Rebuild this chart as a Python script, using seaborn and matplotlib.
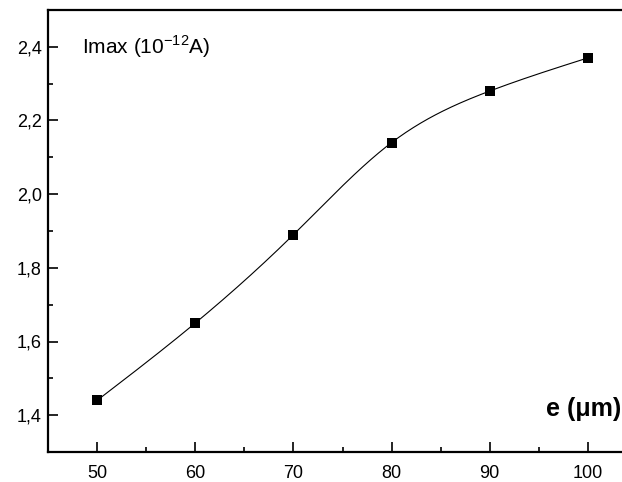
import numpy as np
import pandas as pd
import matplotlib
matplotlib.use("Agg")
import matplotlib.pyplot as plt
from matplotlib.ticker import FixedLocator, MultipleLocator, FixedFormatter
import seaborn as sns

# Measured peak current versus thickness
thickness_um = [50, 60, 70, 80, 90, 100]
imax = [1.44, 1.65, 1.89, 2.14, 2.28, 2.37]

x_ticks = [50, 60, 70, 80, 90, 100]
x_tick_labels = ["50", "60", "70", "80", "90", "100"]
y_ticks = [1.4, 1.6, 1.8, 2.0, 2.2, 2.4]
y_tick_labels = ["1,4", "1,6", "1,8", "2,0", "2,2", "2,4"]


def natural_cubic_spline(x, y, n=400):
    """Natural cubic spline through (x, y), evaluated on a dense grid."""
    x = np.asarray(x, float)
    y = np.asarray(y, float)
    k = len(x)
    h = np.diff(x)
    A = np.zeros((k, k))
    b = np.zeros(k)
    A[0, 0] = A[-1, -1] = 1.0
    for i in range(1, k - 1):
        A[i, i - 1] = h[i - 1]
        A[i, i] = 2 * (h[i - 1] + h[i])
        A[i, i + 1] = h[i]
        b[i] = 3 * ((y[i + 1] - y[i]) / h[i] - (y[i] - y[i - 1]) / h[i - 1])
    c = np.linalg.solve(A, b)
    xs = np.linspace(x[0], x[-1], n)
    ys = np.empty_like(xs)
    for j, xv in enumerate(xs):
        i = min(np.searchsorted(x, xv, side="right") - 1, k - 2)
        dx = xv - x[i]
        bi = (y[i + 1] - y[i]) / h[i] - h[i] * (2 * c[i] + c[i + 1]) / 3
        di = (c[i + 1] - c[i]) / (3 * h[i])
        ys[j] = y[i] + bi * dx + c[i] * dx ** 2 + di * dx ** 3
    return xs, ys


sns.set_style("white")
plt.rcParams["font.family"] = ["Liberation Sans", "DejaVu Sans"]
plt.rcParams["mathtext.fontset"] = "custom"
plt.rcParams["mathtext.rm"] = "Liberation Sans"
plt.rcParams["text.color"] = "black"
plt.rcParams["axes.labelcolor"] = "black"
plt.rcParams["xtick.color"] = "black"
plt.rcParams["ytick.color"] = "black"

W, H = 622, 482
fig = plt.figure(figsize=(W / 100, H / 100), dpi=100)
ax = fig.add_axes([48 / W, (H - 452) / H, 589 / W, 442 / H])

xs, ys = natural_cubic_spline(thickness_um, imax)
curve = pd.DataFrame({"e": xs, "I": ys})
points = pd.DataFrame({"e": thickness_um, "I": imax})

sns.lineplot(data=curve, x="e", y="I", ax=ax, color="black", linewidth=0.8,
             estimator=None, sort=False)
sns.scatterplot(data=points, x="e", y="I", ax=ax, marker="s", s=55,
                color="black", edgecolor="black", linewidth=0, zorder=3)

ax.set_xlim(45, 105)
ax.set_ylim(1.3, 2.5)

ax.xaxis.set_major_locator(FixedLocator(x_ticks))
ax.xaxis.set_major_formatter(FixedFormatter(x_tick_labels))
ax.xaxis.set_minor_locator(MultipleLocator(5))
ax.yaxis.set_major_locator(FixedLocator(y_ticks))
ax.yaxis.set_major_formatter(FixedFormatter(y_tick_labels))
ax.yaxis.set_minor_locator(MultipleLocator(0.1))

ax.tick_params(axis="both", which="major", direction="in", length=7,
               width=1.2, labelsize=13, color="black", labelcolor="black")
ax.tick_params(axis="both", which="minor", direction="in", length=3.5,
               width=1.2, color="black")
ax.tick_params(axis="x", which="both", bottom=True, top=False, pad=9)
ax.tick_params(axis="y", which="both", left=True, right=False, pad=4.5)

for side in ["left", "bottom", "top", "right"]:
    ax.spines[side].set_visible(True)
    ax.spines[side].set_color("black")
    ax.spines[side].set_linewidth(1.6)

ax.set_xlabel("")
ax.set_ylabel("")

ax.text(82 / W, (H - 47) / H, r"Imax (10$^{-12}$A)", transform=fig.transFigure,
        fontsize=15, va="center", ha="left", color="black")
ax.text(621 / W, (H - 409) / H, "e (\u03bcm)", transform=fig.transFigure,
        fontsize=18, fontweight="bold", va="center", ha="right", color="black")

fig.savefig("out.png", dpi=100)
